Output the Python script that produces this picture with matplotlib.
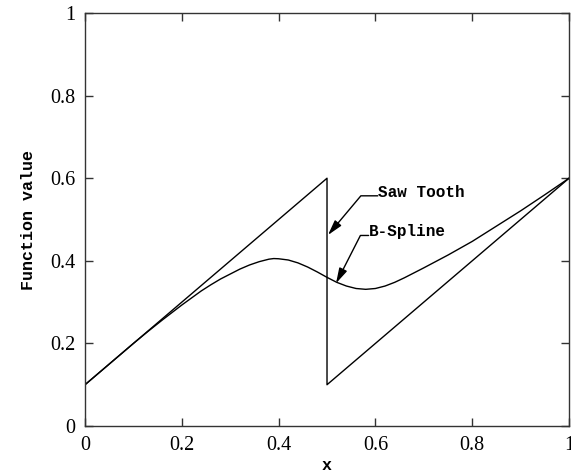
import numpy as np
import matplotlib
matplotlib.use('Agg')
import matplotlib.pyplot as plt

# saw tooth corner points
saw_x = [0.0, 0.5, 0.5, 1.0]
saw_y = [0.1, 0.6, 0.1, 0.6]

# b-spline curve, values
spline_x = [0.0, 0.05, 0.1, 0.13, 0.16, 0.18, 0.2, 0.22, 0.24, 0.26, 0.28,
            0.3, 0.32, 0.34, 0.36, 0.38, 0.39, 0.4, 0.42, 0.44, 0.46, 0.48,
            0.5, 0.52, 0.54, 0.56, 0.58, 0.6, 0.62, 0.64, 0.66, 0.68, 0.7,
            0.75, 0.8, 0.85, 0.9, 0.95, 1.0]
spline_y = [0.1, 0.15, 0.2, 0.229, 0.257, 0.275, 0.293, 0.31, 0.327, 0.342,
            0.356, 0.368, 0.38, 0.39, 0.398, 0.404, 0.4055, 0.405, 0.402,
            0.395, 0.385, 0.373, 0.36, 0.348, 0.339, 0.333, 0.331, 0.333,
            0.339, 0.348, 0.359, 0.371, 0.383, 0.414, 0.447, 0.484, 0.521,
            0.56, 0.6]

ticks = [0, 0.2, 0.4, 0.6, 0.8, 1]
tick_labels = ['0', '0.2', '0.4', '0.6', '0.8', '1']

mono = 'Liberation Mono'
serif = 'Liberation Serif'

fig = plt.figure(figsize=(5.71, 4.76), dpi=100)
ax = fig.add_axes([0.1489, 0.105, 0.8476, 0.8676])

ax.plot(saw_x, saw_y, color='black', lw=1.0)
ax.plot(spline_x, spline_y, color='black', lw=1.0)

ax.set_xlim(0, 1)
ax.set_ylim(0, 1)
ax.set_xticks(ticks)
ax.set_yticks(ticks)
ax.set_xticklabels(tick_labels, fontfamily=serif, fontsize=14.5)
ax.set_yticklabels(tick_labels, fontfamily=serif, fontsize=14.5)
ax.tick_params(direction='in', length=6, width=1, color='#333333',
               top=True, right=True, pad=7)

for sp in ax.spines.values():
    sp.set_color('#333333')
    sp.set_linewidth(1.0)

ax.set_xlabel('x', fontfamily=mono, fontweight='bold', fontsize=12, labelpad=2)
ax.set_ylabel('Function value', fontfamily=mono, fontweight='bold',
              fontsize=12, labelpad=10)

# labels with bent leader arrows
arrow = dict(arrowstyle='-|>,head_length=0.8,head_width=0.22', color='black',
             lw=1.0, shrinkA=0, shrinkB=0, patchA=None, relpos=(0, 0.25))
ax.annotate('Saw Tooth', xy=(0.502, 0.4625), xytext=(0.605, 0.5665),
            fontfamily=mono, fontweight='bold', fontsize=11.5,
            ha='left', va='center',
            arrowprops=dict(arrow, connectionstyle='angle,angleA=0,angleB=50,rad=0'))
ax.annotate('B-Spline', xy=(0.5186, 0.3455), xytext=(0.586, 0.4705),
            fontfamily=mono, fontweight='bold', fontsize=11.5,
            ha='left', va='center',
            arrowprops=dict(arrow, connectionstyle='angle,angleA=0,angleB=63,rad=0'))

fig.savefig('out.png', dpi=100)
